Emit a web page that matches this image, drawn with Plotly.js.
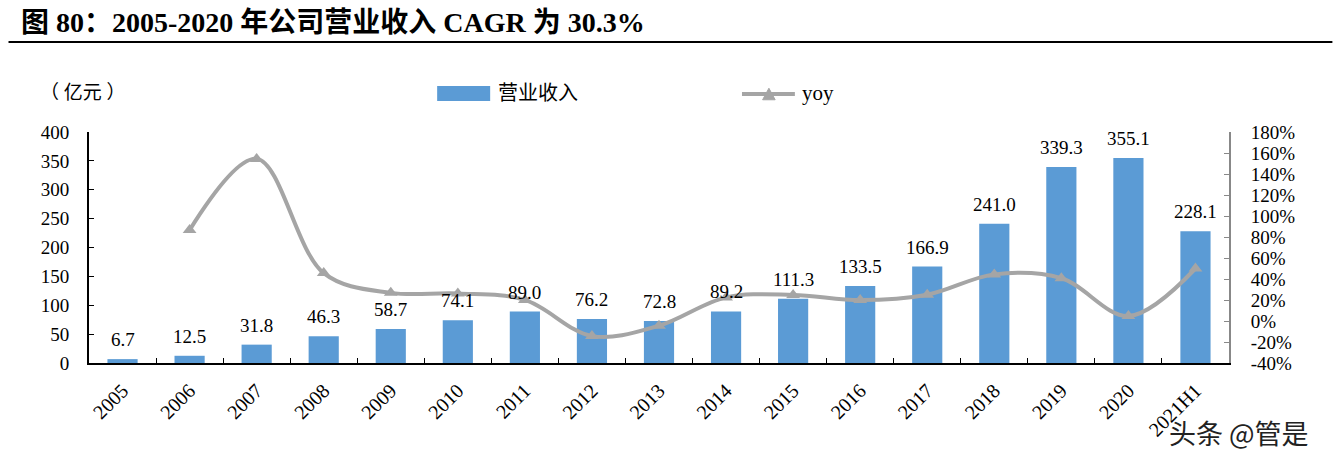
<!DOCTYPE html>
<html>
<head>
<meta charset="utf-8">
<script src="https://cdn.plot.ly/plotly-3.0.1.min.js"></script>
<style>html,body{margin:0;padding:0;background:#fff;}#chart{width:1333px;height:457px;}</style>
</head>
<body>
<div id="chart"></div>
<script>
const categories = ['2005','2006','2007','2008','2009','2010','2011','2012','2013','2014','2015','2016','2017','2018','2019','2020','2021H1'];
const revenue = [6.7,12.5,31.8,46.3,58.7,74.1,89.0,76.2,72.8,89.2,111.3,133.5,166.9,241.0,339.3,355.1,228.1];
const yoy = [null,86.6,154.4,45.6,26.8,26.2,20.1,-14.4,-4.5,22.5,24.8,19.9,25.0,44.4,40.8,4.7,50.0];
const leftTicks = [0,50,100,150,200,250,300,350,400];
const rightTicks = [-40,-20,0,20,40,60,80,100,120,140,160,180];
const rightTickText = rightTicks.map(v => v + '%');

const serif = '"Liberation Serif", "Times New Roman", "Noto Sans CJK SC", serif';
const cjk = '"Liberation Serif", "Noto Sans CJK SC", serif';

const traces = [
  {
    type: 'bar', name: '营业收入', x: categories, y: revenue,
    marker: {color: '#5B9BD5'},
    cliponaxis: false, hoverinfo: 'skip', showlegend: false
  },
  {
    type: 'scatter', mode: 'lines+markers', name: 'yoy', x: categories, y: yoy, yaxis: 'y2',
    line: {color: '#A5A5A5', width: 4, shape: 'spline', smoothing: 1},
    marker: {symbol: 'triangle-up', size: 12, color: '#A5A5A5'},
    connectgaps: false, cliponaxis: false, hoverinfo: 'skip', showlegend: false
  }
];

// category axes take annotation x as the category index
const barLabels = categories.map((c, i) => ({
  x: i, y: revenue[i], xref: 'x', yref: 'y', text: revenue[i].toFixed(1),
  showarrow: false, yanchor: 'bottom', yshift: 7,
  font: {family: serif, size: 19, color: '#000'}
}));

const triCx = 0.5964, triCy = 1.1645, triW = 0.0055, triH = 0.025;

const layout = {
  width: 1333, height: 457,
  margin: {l: 88.5, r: 103.5, t: 132, b: 94},
  paper_bgcolor: '#fff', plot_bgcolor: '#fff',
  showlegend: false,
  bargap: 0.55,
  xaxis: {
    type: 'category', range: [-0.5, categories.length - 0.5], tickangle: -45, ticks: 'inside', tickson: 'boundaries', ticklen: 5,
    tickcolor: '#000', showline: true, linecolor: '#000', linewidth: 2, ticklabelstandoff: 6,
    showgrid: false, tickfont: {family: serif, size: 20, color: '#000'}
  },
  yaxis: {
    range: [0, 400], tickmode: 'array', tickvals: leftTicks, ticks: 'inside', ticklen: 5, tickcolor: '#000',
    showline: true, linecolor: '#000', linewidth: 2, showgrid: false, zeroline: false,
    ticklabelstandoff: 14, tickfont: {family: serif, size: 19, color: '#000'}
  },
  yaxis2: {
    range: [-40, 180], tickmode: 'array', tickvals: rightTicks, ticktext: rightTickText,
    overlaying: 'y', side: 'right',
    ticks: 'inside', ticklen: 5, tickcolor: '#888', showline: true, linecolor: '#888', linewidth: 2,
    showgrid: false, zeroline: false, ticklabelstandoff: 16,
    tickfont: {family: serif, size: 19, color: '#000'}
  },
  shapes: [
    {type: 'line', xref: 'paper', yref: 'paper', x0: -0.0706, x1: 1.0907, y0: 1.39, y1: 1.39,
     line: {color: '#000', width: 2}},
    {type: 'rect', xref: 'paper', yref: 'paper', x0: 0.3054, x1: 0.3519, y0: 1.134, y1: 1.199,
     fillcolor: '#5B9BD5', line: {width: 0}},
    {type: 'line', xref: 'paper', yref: 'paper', x0: 0.5728, x1: 0.6192, y0: triCy, y1: triCy,
     line: {color: '#A5A5A5', width: 4}},
    {type: 'path', xref: 'paper', yref: 'paper',
     path: `M ${triCx - triW} ${triCy - triH} L ${triCx + triW} ${triCy - triH} L ${triCx} ${triCy + triH} Z`,
     fillcolor: '#A5A5A5', line: {color: '#A5A5A5', width: 1}}
  ],
  annotations: barLabels.concat([
    {text: '<b>图 80：2005-2020 年公司营业收入 CAGR 为 30.3%</b>', xref: 'paper', yref: 'paper',
     x: -0.061, y: 1.476, xanchor: 'left', yanchor: 'middle', showarrow: false,
     font: {family: serif, size: 28, color: '#000'}},
    {text: '（ 亿元 ）', xref: 'paper', yref: 'paper', x: -0.045, y: 1.173, xanchor: 'left', yanchor: 'middle',
     showarrow: false, font: {family: cjk, size: 19, color: '#000'}},
    {text: '营业收入', xref: 'paper', yref: 'paper', x: 0.357, y: 1.169, xanchor: 'left', yanchor: 'middle',
     showarrow: false, font: {family: cjk, size: 20, color: '#000'}},
    {text: 'yoy', xref: 'paper', yref: 'paper', x: 0.6236, y: 1.169, xanchor: 'left', yanchor: 'middle',
     showarrow: false, font: {family: serif, size: 21, color: '#000'}},
    {text: '头条 @管是', xref: 'paper', yref: 'paper', x: 1.072, y: -0.392, xanchor: 'right', yanchor: 'bottom',
     showarrow: false, font: {family: '"Noto Sans CJK SC", sans-serif', size: 27, color: '#222'}}
  ])
};

Plotly.newPlot('chart', traces, layout, {displayModeBar: false, staticPlot: true});
</script>
</body>
</html>
